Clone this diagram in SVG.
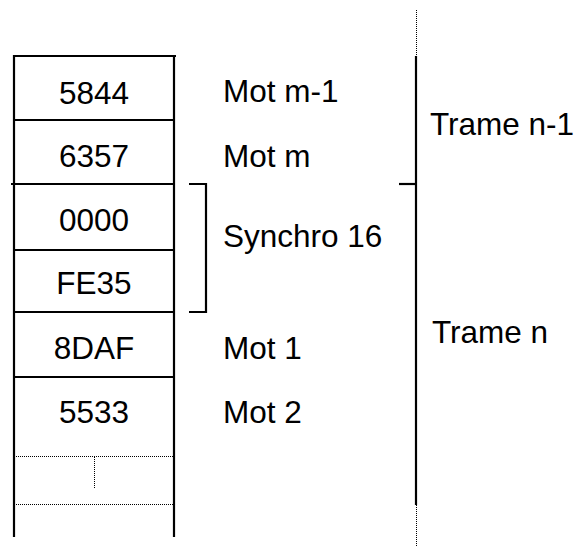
<svg xmlns="http://www.w3.org/2000/svg" width="578" height="547" viewBox="0 0 578 547">
<style>
.t{font-family:"Liberation Sans",Arial,sans-serif;font-size:31.5px;fill:#000}
.c{text-anchor:middle}
.s{stroke:#000;stroke-width:2.2;fill:none}
.d{stroke:#000;stroke-width:1;stroke-dasharray:1 1;fill:none}
</style>
<rect width="578" height="547" fill="#fff"/>
<g id="table">
<line class="s" x1="14" y1="55" x2="14" y2="537"/>
<line class="s" x1="174" y1="55" x2="174" y2="537"/>
<line class="s" x1="13" y1="56" x2="176" y2="56"/>
<line class="s" x1="14" y1="120" x2="174" y2="120"/>
<line class="s" x1="11" y1="184" x2="174" y2="184"/>
<line class="s" x1="14" y1="250" x2="174" y2="250"/>
<line class="s" x1="14" y1="312" x2="174" y2="312"/>
<line class="s" x1="14" y1="377" x2="174" y2="377"/>
<line class="d" x1="14" y1="456.5" x2="174" y2="456.5"/>
<line class="d" x1="14" y1="504.5" x2="174" y2="504.5"/>
<line class="d" x1="94.5" y1="457" x2="94.5" y2="488"/>
</g>
<g id="cell-5844"><text class="t c" x="94" y="104">5844</text></g>
<g id="cell-6357"><text class="t c" x="94" y="167">6357</text></g>
<g id="cell-0000"><text class="t c" x="94" y="231">0000</text></g>
<g id="cell-FE35"><text class="t c" x="94" y="294">FE35</text></g>
<g id="cell-8DAF"><text class="t c" x="94" y="359">8DAF</text></g>
<g id="cell-5533"><text class="t c" x="94" y="423">5533</text></g>
<g id="label-mot-m-1"><text class="t" x="223" y="102">Mot m-1</text></g>
<g id="label-mot-m"><text class="t" x="223" y="167">Mot m</text></g>
<g id="label-synchro"><text class="t" x="223" y="247">Synchro 16</text></g>
<g id="label-mot-1"><text class="t" x="223" y="359">Mot 1</text></g>
<g id="label-mot-2"><text class="t" x="223" y="423">Mot 2</text></g>
<g id="label-trame-n-1"><text class="t" x="430" y="135">Trame n-1</text></g>
<g id="label-trame-n"><text class="t" x="432" y="343">Trame n</text></g>
<g id="connectors">
<polyline class="s" points="189,184 206,184 206,312 189,312"/>
<line class="d" x1="416.5" y1="10" x2="416.5" y2="56"/>
<line class="s" x1="416" y1="56" x2="416" y2="505" stroke-width="2.6"/>
<line class="d" x1="416.5" y1="505" x2="416.5" y2="547"/>
<line class="s" x1="399" y1="184" x2="416" y2="184"/>
</g>
</svg>
